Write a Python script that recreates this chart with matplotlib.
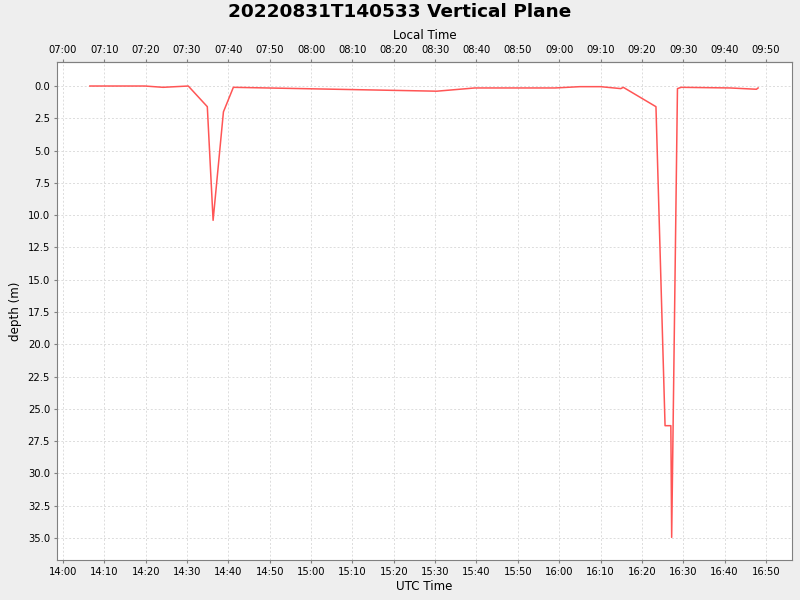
import pandas as pd
import matplotlib
matplotlib.use("Agg")
import matplotlib.pyplot as plt
import matplotlib.dates as mdates

# UTC sample times and depth (m)
utc_times = ["14:06:30", "14:19:48", "14:24:12", "14:30:18", "14:34:54", "14:36:18",
             "14:38:48", "14:41:12", "15:30:24", "15:39:36", "15:59:00", "16:05:00",
             "16:10:00", "16:14:54", "16:15:30", "16:23:24", "16:25:36", "16:27:00",
             "16:27:12", "16:28:36", "16:29:30", "16:41:18", "16:47:42", "16:48:06"]
depths = [0.0, 0.0, 0.1, 0.0, 1.6, 10.4,
          2.0, 0.1, 0.4, 0.15, 0.15, 0.05,
          0.05, 0.2, 0.1, 1.6, 26.3, 26.3,
          34.95, 0.2, 0.1, 0.15, 0.25, 0.15]
local_offset_hours = -7
y_ticks = [0.0, 2.5, 5.0, 7.5, 10.0, 12.5, 15.0, 17.5, 20.0, 22.5, 25.0, 27.5, 30.0, 32.5, 35.0]

t = pd.to_datetime(["2022-08-31 " + s for s in utc_times])
x = mdates.date2num(t)

fig = plt.figure(figsize=(8, 6), dpi=100, facecolor="#eeeeee")
ax = fig.add_axes([57/800, 1 - 560/600, (792 - 57)/800, (560 - 62)/600])
ax.set_facecolor("white")

ax.plot(x, depths, color="#ff5555", linewidth=1.1)

x0 = mdates.date2num(pd.Timestamp("2022-08-31 13:58:33"))
x1 = mdates.date2num(pd.Timestamp("2022-08-31 16:56:18"))
ax.set_xlim(x0, x1)
ax.set_ylim(36.7, -1.86)
ax.set_yticks(y_ticks)
ax.yaxis.set_major_formatter(matplotlib.ticker.FormatStrFormatter("%.1f"))

ax.xaxis.set_major_locator(mdates.MinuteLocator(byminute=range(0, 60, 10)))
ax.xaxis.set_major_formatter(mdates.DateFormatter("%H:%M"))

# top axis shows local time
off = local_offset_hours / 24.0
sec = ax.secondary_xaxis("top", functions=(lambda v: v + off, lambda v: v - off))
sec.xaxis.set_major_locator(mdates.MinuteLocator(byminute=range(0, 60, 10)))
sec.xaxis.set_major_formatter(mdates.DateFormatter("%H:%M"))
sec.set_xlabel("Local Time", fontsize=8.6, labelpad=4)

ax.grid(True, color="#dcdcdc", linestyle=(0, (2, 2)), linewidth=0.7)
for s in ax.spines.values():
    s.set_color("#808080")
for s in sec.spines.values():
    s.set_color("#808080")

ax.tick_params(axis="both", labelsize=7.2, length=2, color="#808080", pad=3)
sec.tick_params(axis="x", labelsize=7.2, length=2, color="#808080", pad=3)

ax.set_xlabel("UTC Time", fontsize=8.6, labelpad=2)
ax.set_ylabel("depth (m)", fontsize=8.6, labelpad=4)
fig.suptitle("20220831T140533 Vertical Plane", fontsize=13.3, fontweight="bold", y=0.995)

fig.savefig("out.png", dpi=100, facecolor=fig.get_facecolor())
